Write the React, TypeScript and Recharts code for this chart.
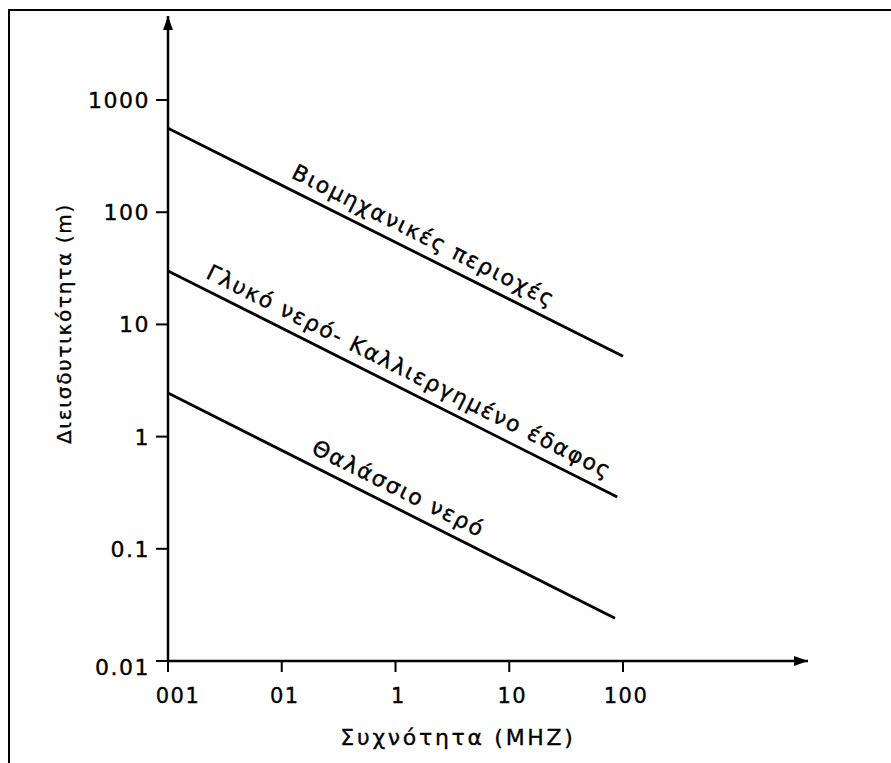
import React from 'react';
import { LineChart, Line, XAxis, YAxis, ReferenceLine, ReferenceDot } from 'recharts';

// frequency (MHz) ticks and their printed labels
const freqTicks = [0.01, 0.1, 1, 10, 100];
const freqLabels = ['001', '01', '1', '10', '100'];

// penetration depth (m) ticks
const depthTicks = [0.01, 0.1, 1, 10, 100, 1000];
const depthLabels = ['0.01', '0.1', '1', '10', '100', '1000'];

// the three curves (end points of straight log-log lines)
const industrialFreq = [0.01, 100];
const industrialDepth = [560, 5.2];
const freshWaterFreq = [0.01, 89];
const freshWaterDepth = [30, 0.29];
const seaWaterFreq = [0.01, 85];
const seaWaterDepth = [2.45, 0.024];

const seriesNames = ['Βιομηχανικές περιοχές', 'Γλυκό νερό- Καλλιεργημένο έδαφος', 'Θαλάσσιο νερό'];
const labelAtFreq = [1.5, 1.12, 0.9];

const X_MAX = 4230;
const Y_MAX = 5610;
const FONT = '"DejaVu Sans", sans-serif';
const ANGLE = 26.6;

const toRows = (f: number[], d: number[]) => f.map((v, i) => ({ f: v, d: d[i] }));

const series = [
  toRows(industrialFreq, industrialDepth),
  toRows(freshWaterFreq, freshWaterDepth),
  toRows(seaWaterFreq, seaWaterDepth),
];

// depth on a straight log-log line at frequency x
const depthOn = (rows: { f: number; d: number }[], x: number) => {
  const [a, b] = rows;
  const t = (Math.log10(x) - Math.log10(a.f)) / (Math.log10(b.f) - Math.log10(a.f));
  return Math.pow(10, Math.log10(a.d) + t * (Math.log10(b.d) - Math.log10(a.d)));
};

const inkProps = { fill: '#000', stroke: '#000', strokeWidth: 0.35 };

const XTick = (props: any) => {
  const { x, y, payload, index } = props;
  const shift = payload.value === 0.01 ? 10 : 3;
  return (
    <text x={x + shift} y={y + 29} textAnchor="middle" fontFamily={FONT} fontSize={21} letterSpacing={1.5} {...inkProps}>
      {freqLabels[index]}
    </text>
  );
};

const YTick = (props: any) => {
  const { x, y, payload, index } = props;
  const dy = payload.value === 0.01 ? 14 : 8;
  return (
    <text x={x - 4} y={y + dy} textAnchor="end" fontFamily={FONT} fontSize={22} letterSpacing={1.5} {...inkProps}>
      {depthLabels[index]}
    </text>
  );
};

const ArrowAxis = (dir: 'x' | 'y') => (props: any) => {
  const { x1, y1, x2, y2 } = props;
  const head =
    dir === 'x'
      ? `${x2},${y2} ${x2 - 14},${y2 - 5} ${x2 - 14},${y2 + 5}`
      : `${x2},${y2} ${x2 - 5},${y2 + 14} ${x2 + 5},${y2 + 14}`;
  return (
    <g>
      <line x1={x1} y1={y1} x2={x2} y2={y2} stroke="#000" strokeWidth={2.5} />
      <polygon points={head} fill="#000" />
    </g>
  );
};

const SeriesLabel = (text: string) => (props: any) => {
  const { cx, cy } = props;
  return (
    <text
      x={cx}
      y={cy - 11}
      transform={`rotate(${ANGLE}, ${cx}, ${cy})`}
      textAnchor="middle"
      fontFamily={FONT}
      fontSize={22}
      letterSpacing={1.8}
      {...inkProps}
    >
      {text}
    </text>
  );
};

export default function App() {
  return (
    <div style={{ position: 'absolute', left: 0, top: 0, width: 891, height: 763, background: '#fff', overflow: 'hidden' }}>
      <div
        style={{
          position: 'absolute',
          left: 8,
          top: 9,
          width: 900,
          height: 800,
          borderTop: '2px solid #000',
          borderLeft: '2px solid #000',
        }}
      />
      <div style={{ position: 'absolute', left: 0, top: 0 }}>
        <LineChart width={891} height={763} margin={{ top: 16, right: 83, bottom: 0, left: 0 }}>
          <XAxis
            dataKey="f"
            type="number"
            scale="log"
            domain={[0.01, X_MAX]}
            ticks={freqTicks}
            allowDataOverflow
            axisLine={false}
            tickLine={{ stroke: '#000', strokeWidth: 2 }}
            tickSize={11}
            height={102}
            tick={<XTick />}
            label={{
              content: (p: any) => {
                const vb = p.viewBox;
                return (
                  <text
                    x={vb.x + vb.width / 2 - 30}
                    y={vb.y + 84}
                    textAnchor="middle"
                    fontFamily={FONT}
                    fontSize={22}
                    letterSpacing={2.7}
                    {...inkProps}
                  >
                    Συχνότητα (MHZ)
                  </text>
                );
              },
            }}
          />
          <YAxis
            dataKey="d"
            type="number"
            scale="log"
            domain={[0.01, Y_MAX]}
            ticks={depthTicks}
            allowDataOverflow
            axisLine={false}
            tickLine={{ stroke: '#000', strokeWidth: 2 }}
            tickSize={12}
            width={168}
            tick={<YTick />}
            label={{
              content: (p: any) => {
                const vb = p.viewBox;
                const cy = vb.y + vb.height / 2 - 15;
                return (
                  <text
                    x={64}
                    y={cy}
                    transform={`rotate(-90, 64, ${cy})`}
                    textAnchor="middle"
                    dominantBaseline="central"
                    fontFamily={FONT}
                    fontSize={20}
                    letterSpacing={1.7}
                    {...inkProps}
                  >
                    Διεισδυτικότητα (m)
                  </text>
                );
              },
            }}
          />
          <ReferenceLine
            segment={[{ x: 0.01, y: 0.01 }, { x: X_MAX, y: 0.01 }]}
            ifOverflow="visible"
            shape={ArrowAxis('x')}
          />
          <ReferenceLine
            segment={[{ x: 0.01, y: 0.01 }, { x: 0.01, y: Y_MAX }]}
            ifOverflow="visible"
            shape={ArrowAxis('y')}
          />
          {series.map((rows, i) => (
            <Line
              key={seriesNames[i]}
              data={rows}
              dataKey="d"
              type="linear"
              stroke="#000"
              strokeWidth={2.8}
              dot={false}
              activeDot={false}
              isAnimationActive={false}
            />
          ))}
          {series.map((rows, i) => (
            <ReferenceDot
              key={'lbl' + i}
              x={labelAtFreq[i]}
              y={depthOn(rows, labelAtFreq[i])}
              r={0}
              ifOverflow="visible"
              shape={SeriesLabel(seriesNames[i])}
            />
          ))}
        </LineChart>
      </div>
    </div>
  );
}
